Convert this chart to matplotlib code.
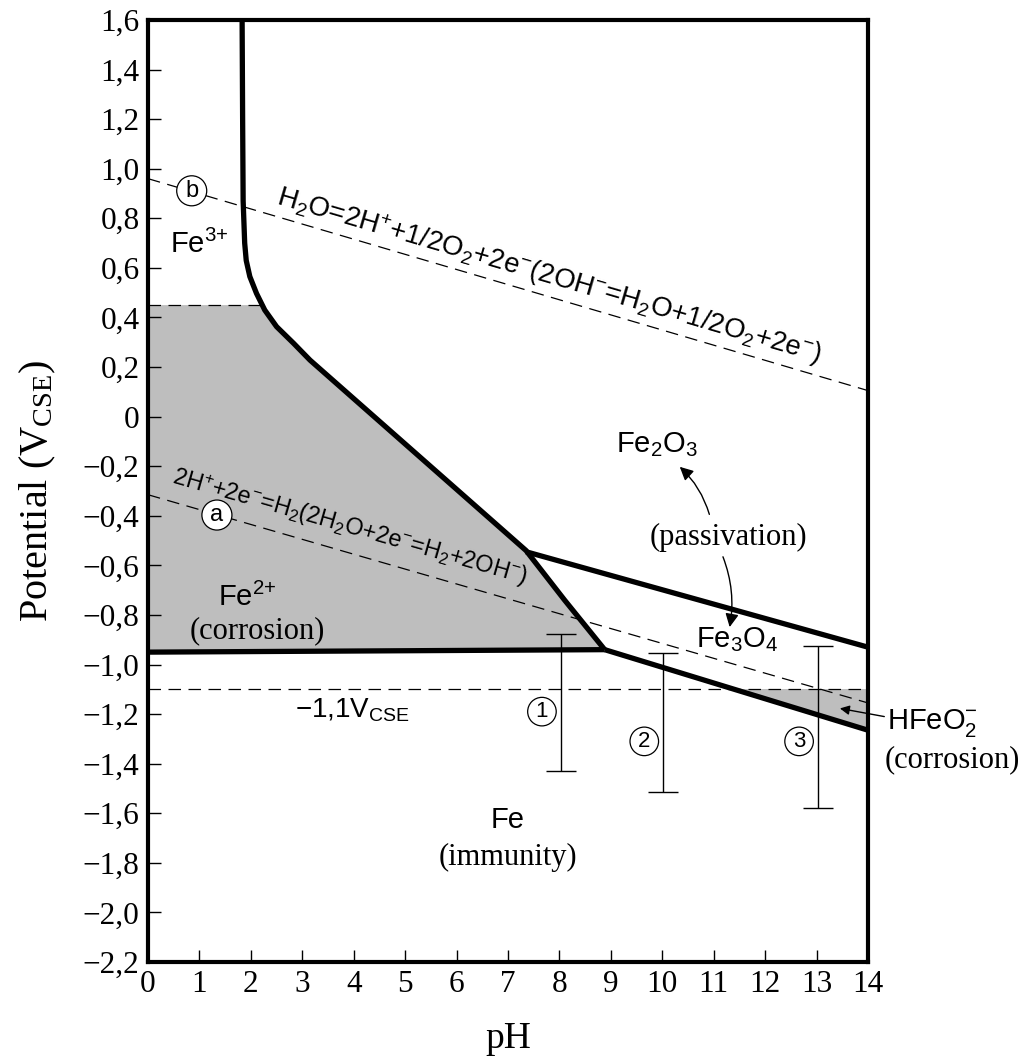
import matplotlib
matplotlib.use("Agg")
import matplotlib.pyplot as plt
import numpy as np
from matplotlib.patches import FancyArrowPatch

plt.rcParams['mathtext.default'] = 'regular'
SANS = ['Liberation Sans', 'DejaVu Sans']
SERIF = ['Liberation Serif', 'DejaVu Serif']

# boundaries: pH, potential (V vs CSE)
fe2_right_ph = [1.83, 1.84, 1.85, 1.88, 1.91, 1.98, 2.11, 2.27, 2.50, 2.83, 3.15, 7.35, 8.10, 8.88]
fe2_right_v = [1.60, 1.20, 0.87, 0.70, 0.63, 0.565, 0.497, 0.43, 0.363, 0.296, 0.228, -0.54, -0.74, -0.94]
fe2_fe_ph = [0, 8.88]
fe2_fe_v = [-0.95, -0.94]
fe2o3_ph = [7.35, 14]
fe2o3_v = [-0.545, -0.93]
fe3o4_ph = [8.88, 14]
fe3o4_v = [-0.94, -1.265]

water_ph = [0, 14]
water_b = [0.96, 0.105]
water_a = [-0.315, -1.155]
fe3_limit = 0.45
protect_v = -1.1

bars_ph = np.array([8.03, 10.02, 13.03])
bars_top = np.array([-0.875, -0.955, -0.925])
bars_bot = np.array([-1.43, -1.515, -1.58])
bar_tags = ['1', '2', '3']
bar_tag_v = [-1.19, -1.31, -1.31]

xticks = list(range(15))
yticks = np.round(np.arange(-2.2, 1.61, 0.2), 1)


def ylab(v):
    if v == 0:
        return '0'
    s = f'{abs(v):.1f}'.replace('.', ',')
    return ('\u2212' + s) if v < 0 else s


fig = plt.figure(figsize=(10.24, 10.59), dpi=100)
ax = fig.add_axes([148 / 1024, 1 - 962 / 1059, 720 / 1024, 942 / 1059])
ax.set_xlim(0, 14)
ax.set_ylim(-2.2, 1.6)

gray = '#bebebe'
# Fe2+ corrosion zone
rph = np.array(fe2_right_ph)
rv = np.array(fe2_right_v)
x_lim = np.interp(fe3_limit, rv[::-1], rph[::-1])
m = rv < fe3_limit
poly_x = [fe2_fe_ph[0], 0, x_lim] + list(rph[m])
poly_y = [fe2_fe_v[0], fe3_limit, fe3_limit] + list(rv[m])
ax.fill(poly_x, poly_y, color=gray, lw=0, zorder=1)

# HFeO2- corrosion zone
x_int = np.interp(protect_v, fe3o4_v[::-1], fe3o4_ph[::-1])
ax.fill([x_int, 14, 14], [protect_v, protect_v, fe3o4_v[-1]], color=gray, lw=0, zorder=1)

# dashed lines
dash = dict(color='k', lw=0.9, ls=(0, (10, 6)), zorder=2)
ax.plot(water_ph, water_b, **dash)
ax.plot(water_ph, water_a, **dash)
ax.plot([0, 14], [protect_v, protect_v], **dash)
ax.plot([0, x_lim], [fe3_limit, fe3_limit], **dash)

# thick boundaries
thick = dict(color='k', lw=3.8, solid_capstyle='butt', solid_joinstyle='round', zorder=3)
ax.plot(fe2_right_ph, fe2_right_v, **thick)
ax.plot(fe2_fe_ph, fe2_fe_v, **thick)
ax.plot(fe2o3_ph, fe2o3_v, **thick)
ax.plot(fe3o4_ph, fe3o4_v, **thick)

# measured potential ranges
mid = (bars_top + bars_bot) / 2
ax.errorbar(bars_ph, mid, yerr=[mid - bars_bot, bars_top - mid], fmt='none',
            ecolor='k', elinewidth=1.0, capsize=11, capthick=1.0, zorder=4)
circ = dict(boxstyle='circle,pad=0.17', fc='white', ec='k', lw=0.9)
for p, t, v in zip(bars_ph, bar_tags, bar_tag_v):
    ax.text(p - 0.37, v, t, family=SANS, fontsize=16, ha='center', va='center',
            bbox=circ, zorder=5)

ax.text(0.85, 0.911, 'b', family=SANS, fontsize=17, ha='center', va='center', bbox=circ, zorder=5)
ax.text(1.34, -0.397, 'a', family=SANS, fontsize=17, ha='center', va='center', bbox=circ, zorder=5)

# equations
ax.text(7.75, 0.535,
        r'H$_2$O=2H$^{+}$+1/2O$_2$+2e$^{-}$(2OH$^{-}$=H$_2$O+1/2O$_2$+2e$^{-}$)',
        family=SANS, fontsize=19.8, rotation=-16.3, rotation_mode='anchor',
        ha='center', va='baseline', zorder=5)
ax.text(3.88, -0.475, r'2H$^{+}$+2e$^{-}$=H$_2$(2H$_2$O+2e$^{-}$=H$_2$+2OH$^{-}$)',
        family=SANS, fontsize=16.8, rotation=-16.0, rotation_mode='anchor',
        ha='center', va='baseline', zorder=5)

# region labels
lab = dict(family=SANS, fontsize=21, ha='center', va='baseline', zorder=5)
ser = dict(family=SERIF, fontsize=22, ha='center', va='baseline', zorder=5)
ax.text(0.99, 0.66, r'Fe$^{3{+}}$', **lab)
ax.text(1.93, -0.764, r'Fe$^{2{+}}$', **lab)
ax.text(2.12, -0.895, '(corrosion)', **ser)
ax.text(9.9, -0.145, r'Fe$_2$O$_3$', **lab)
ax.text(11.28, -0.518, '(passivation)', **ser)
ax.text(11.45, -0.929, r'Fe$_3$O$_4$', **lab)
ax.text(7.0, -1.659, 'Fe', **lab)
ax.text(7.0, -1.809, '(immunity)', **ser)
ax.text(3.97, -1.212, '\u22121,1V$_{CSE}$', family=SANS, fontsize=20, ha='center',
        va='baseline', zorder=5)
ax.text(14.37, -1.26, r'HFeO$_2^{-}$', family=SANS, fontsize=21, ha='left',
        va='baseline', clip_on=False)
ax.text(14.33, -1.413, '(corrosion)', family=SERIF, fontsize=22, ha='left',
        va='baseline', clip_on=False)

# arrows
arr = dict(arrowstyle='-|>', mutation_scale=20, color='k', lw=1.0, zorder=6)
ax.add_patch(FancyArrowPatch((10.93, -0.405), (10.30, -0.195),
                             connectionstyle='arc3,rad=0.15', **arr))
ax.add_patch(FancyArrowPatch((11.16, -0.555), (11.30, -0.86),
                             connectionstyle='arc3,rad=-0.15', **arr))
ax.add_patch(FancyArrowPatch((14.37, -1.212), (13.40, -1.175), arrowstyle='-|>',
                             mutation_scale=14, color='k', lw=1.0, clip_on=False, zorder=6))

# axes styling
for s in ax.spines.values():
    s.set_linewidth(3)
ax.set_xticks(xticks)
ax.set_xticklabels([str(t) for t in xticks])
ax.set_yticks(yticks)
ax.set_yticklabels([ylab(v) for v in yticks])
ax.tick_params(direction='in', length=9, width=1, labelsize=22.5, pad=6)
for t in ax.get_xticklabels() + ax.get_yticklabels():
    t.set_family(SERIF)
ax.set_xlabel('pH', family=SERIF, fontsize=27, labelpad=16)
ax.set_ylabel('Potential (V$_{CSE}$)', family=SERIF, fontsize=29, labelpad=18)

fig.savefig('out.png', dpi=100)
